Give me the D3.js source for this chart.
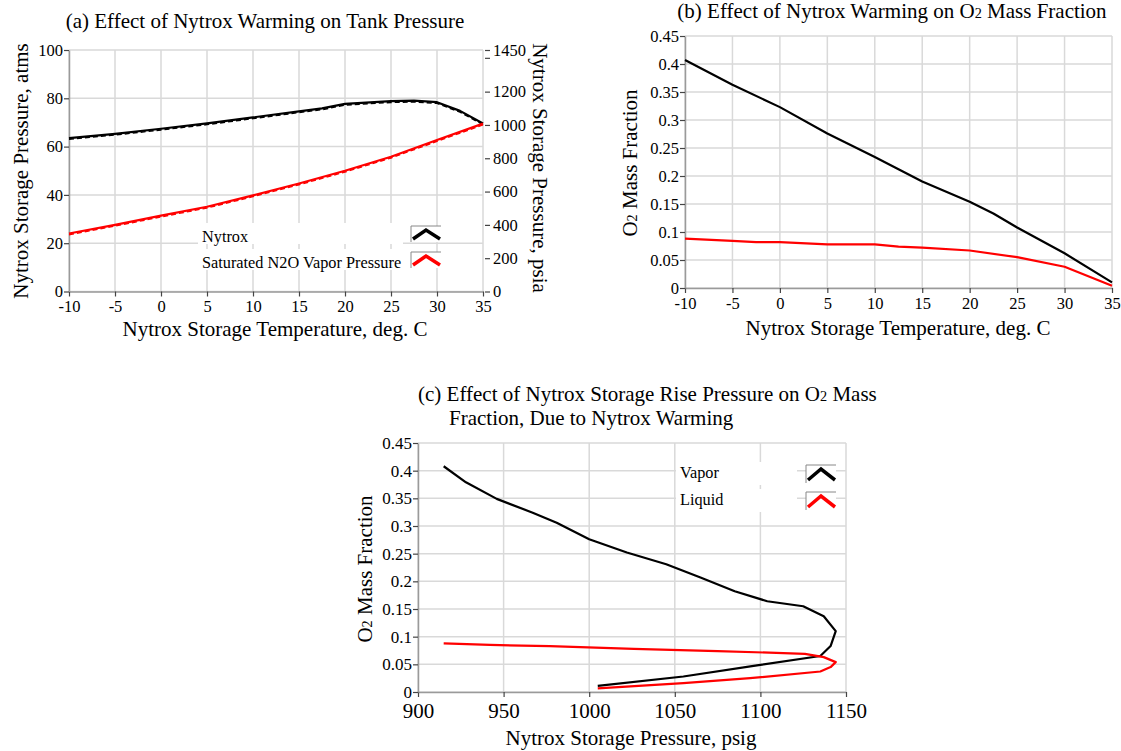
<!DOCTYPE html>
<html><head><meta charset="utf-8">
<script src="https://cdn.jsdelivr.net/npm/d3@7"></script>
<style>
body{margin:0;background:#fff}
text{font-family:"Liberation Serif","Times New Roman",serif;fill:#000}
</style>
</head><body>
<svg id="chart" width="1121" height="751"></svg>
<script>
// ---------- DATA ----------
// Panel (a)
const tempNytrox = [-10,-5,0,5,10,15,17.5,20,25,27.5,30,32.5,35];
const nytroxAtm  = [63.5,65.3,67.4,69.6,72.1,74.6,75.8,77.7,78.8,79,78.4,74.8,69.6];
const tempSat    = [-10,-5,0,5,10,15,20,25,30,35];
const satN2OAtm  = [24.0,27.6,31.4,35.1,39.8,44.7,50.0,55.8,62.7,69.5];
const xTicksTemp = [-10,-5,0,5,10,15,20,25,30,35];
const yTicksAtm  = [0,20,40,60,80,100];
const yTicksPsia = [0,200,400,600,800,1000,1200,1450];
const yTicksPsiaUnlabeled = [1400];
// Panel (b)
const tempVapB   = [-10,-5,0,5,10,12.5,15,20,22.5,25,30,35];
const o2VapB     = [0.407,0.363,0.323,0.276,0.234,0.212,0.190,0.154,0.133,0.108,0.062,0.010];
const tempLiqB   = [-10,-5,-2.5,0,5,10,12.5,15,20,25,30,35];
const o2LiqB     = [0.088,0.084,0.082,0.082,0.078,0.078,0.074,0.072,0.067,0.055,0.038,0.004];
const yTicksO2   = [0,0.05,0.1,0.15,0.2,0.25,0.3,0.35,0.4,0.45];
// Panel (c)
const psigVap = [915,928,946,967,981,1000,1022,1045,1065,1085,1104,1125,1137,1144,1141,1135,1098,1055,1005];
const o2Vap   = [0.408,0.379,0.349,0.324,0.306,0.276,0.252,0.231,0.207,0.182,0.164,0.155,0.137,0.110,0.083,0.065,0.048,0.028,0.011];
const psigLiq = [915,942,977,1026,1075,1126,1137,1144,1141,1135,1094,1055,1005];
const o2Liq   = [0.088,0.085,0.083,0.078,0.074,0.069,0.063,0.054,0.045,0.037,0.025,0.016,0.0066];
const xTicksPsig = [900,950,1000,1050,1100,1150];

// ---------- HELPERS ----------
const svg = d3.select("#chart");
const GRID = "#d9d9d9", AXIS = "#9a9a9a";
const fmt = d => String(+d.toFixed(2));

function styleAxis(a, size){
  a.attr("font-family",null).attr("font-size",null);
  a.selectAll(".tick line").attr("stroke","#444").attr("stroke-width",1.2);
  a.selectAll("text").attr("font-size",size).attr("fill","#000");
}

function panel(o){
  const g = svg.append("g");
  const x = d3.scaleLinear().domain(o.xDom).range([o.l,o.r]);
  const y = d3.scaleLinear().domain(o.yDom).range([o.b,o.t]);
  g.append("g").selectAll("line").data(o.xTicks).join("line")
    .attr("x1",d=>x(d)).attr("x2",d=>x(d)).attr("y1",o.t).attr("y2",o.b)
    .attr("stroke",GRID).attr("stroke-width",1.5);
  g.append("g").selectAll("line").data(o.yTicks).join("line")
    .attr("x1",o.l).attr("x2",o.r).attr("y1",d=>y(d)).attr("y2",d=>y(d))
    .attr("stroke",GRID).attr("stroke-width",1.5);
  const ax = g.append("g").attr("transform",`translate(0,${o.b})`)
    .call(d3.axisBottom(x).tickValues(o.xTicks).tickFormat(fmt).tickSizeInner(5).tickSizeOuter(0).tickPadding(o.xPad));
  const ay = g.append("g").attr("transform",`translate(${o.l},0)`)
    .call(d3.axisLeft(y).tickValues(o.yTicks).tickFormat(fmt).tickSizeInner(5).tickSizeOuter(0).tickPadding(1));
  ax.select(".domain").attr("stroke",AXIS).attr("stroke-width",1.5);
  ay.select(".domain").attr("stroke",AXIS).attr("stroke-width",1.5);
  styleAxis(ax, o.xFont); styleAxis(ay, o.yFont);
  return {g,x,y};
}

function drawLine(p, xs, ys, color, w, dy){
  const pts = xs.map((v,i)=>[v,ys[i]]);
  const path = p.g.append("path").datum(pts)
    .attr("d", d3.line().x(d=>p.x(d[0])).y(d=>p.y(d[1])))
    .attr("fill","none").attr("stroke",color).attr("stroke-width",w)
    .attr("stroke-linejoin","round");
  if(dy) path.attr("transform",`translate(0,${dy})`).attr("stroke-dasharray","5,3");
  return path;
}

function legendRow(x0, x1, base, label, color, iconX, boxTop, boxH){
  svg.append("rect").attr("x",x0).attr("y",boxTop-3).attr("width",x1-x0).attr("height",boxH+5).attr("fill","#fff");
  svg.append("text").attr("x",x0+4).attr("y",base).attr("font-size",16.3).text(label);
  const iw=30, ix=iconX, iy=boxTop, ih=boxH;
  svg.append("rect").attr("x",ix).attr("y",iy).attr("width",iw).attr("height",ih).attr("fill","#fff");
  svg.append("path").attr("d",`M${ix},${iy+ih} V${iy} H${ix+iw}`).attr("fill","none").attr("stroke","#888").attr("stroke-width",1);
  svg.append("path").attr("d",`M${ix+2},${iy+ih-3} L${ix+15},${iy+4} L${ix+29},${iy+ih-3}`)
    .attr("fill","none").attr("stroke",color).attr("stroke-width",3.5).attr("stroke-linejoin","miter");
}

function o2Text(t, parts, size){
  parts.forEach(([s,sub])=>{
    const ts = t.append("tspan").text(s);
    if(sub) ts.attr("font-size", size*0.68);
  });
}

// ---------- PANEL (a) ----------
const A = {l:69,r:483,t:50,b:291.5};
const pa = panel({...A,xDom:[-10,35],yDom:[0,100],xTicks:xTicksTemp,yTicks:yTicksAtm,xPad:4,xFont:16.5,yFont:16.5});
const yPsia = d3.scaleLinear().domain([0,1450]).range([A.b,A.t]);
const ar = pa.g.append("g").attr("transform",`translate(${A.r+2},0)`)
  .call(d3.axisRight(yPsia).tickValues(yTicksPsia).tickFormat(d3.format("d")).tickSizeInner(5).tickSizeOuter(0).tickPadding(3));
ar.select(".domain").remove();
styleAxis(ar, 16.5);
pa.g.append("g").selectAll("line").data(yTicksPsiaUnlabeled).join("line")
  .attr("x1",A.r+2).attr("x2",A.r+7).attr("y1",d=>yPsia(d)).attr("y2",d=>yPsia(d)).attr("stroke","#444").attr("stroke-width",1.2);

drawLine(pa, tempNytrox, nytroxAtm, "#000", 1.5, 1.2);
drawLine(pa, tempNytrox, nytroxAtm, "#000", 2.2);
drawLine(pa, tempSat, satN2OAtm, "#ff0000", 1.5, 1.2);
drawLine(pa, tempSat, satN2OAtm, "#ff0000", 2.2);

legendRow(198, 403, 242, "Nytrox", "#000", 411, 226, 16);
legendRow(198, 403, 268, "Saturated N2O Vapor Pressure", "#ff0000", 411, 252, 16);

svg.append("text").attr("x",265).attr("y",28).attr("text-anchor","middle").attr("font-size",21)
  .text("(a) Effect of Nytrox Warming on Tank Pressure");
svg.append("text").attr("x",275).attr("y",336).attr("text-anchor","middle").attr("font-size",21)
  .text("Nytrox Storage Temperature, deg. C");
svg.append("text").attr("transform","translate(28,171) rotate(-90)").attr("text-anchor","middle").attr("font-size",21)
  .text("Nytrox Storage Pressure, atms");
svg.append("text").attr("transform","translate(533,168) rotate(90)").attr("text-anchor","middle").attr("font-size",21)
  .text("Nytrox Storage Pressure, psia");

// ---------- PANEL (b) ----------
const pb = panel({l:685,r:1112,t:36,b:288,xDom:[-10,35],yDom:[0,0.45],xTicks:xTicksTemp,yTicks:yTicksO2,xPad:4,xFont:16.5,yFont:16.5});
drawLine(pb, tempVapB, o2VapB, "#000", 2.2);
drawLine(pb, tempLiqB, o2LiqB, "#ff0000", 2.2);

const tb = svg.append("text").attr("x",892).attr("y",18).attr("text-anchor","middle").attr("font-size",21);
o2Text(tb, [["(b) Effect of Nytrox Warming on O"],["2",1],[" Mass Fraction"]], 21);
svg.append("text").attr("x",898).attr("y",335).attr("text-anchor","middle").attr("font-size",21)
  .text("Nytrox Storage Temperature, deg. C");
const yb = svg.append("text").attr("transform","translate(637,163) rotate(-90)").attr("text-anchor","middle").attr("font-size",21);
o2Text(yb, [["O"],["2",1],[" Mass Fraction"]], 21);

// ---------- PANEL (c) ----------
const pc = panel({l:418,r:846,t:443,b:692,xDom:[900,1150],yDom:[0,0.45],xTicks:xTicksPsig,yTicks:yTicksO2,xPad:6,xFont:21,yFont:17});
drawLine(pc, psigVap, o2Vap, "#000", 2.2);
drawLine(pc, psigLiq, o2Liq, "#ff0000", 2.2);

legendRow(676, 797, 478, "Vapor", "#000", 806, 465, 18);
legendRow(676, 797, 505, "Liquid", "#ff0000", 806, 492, 18);

const tc1 = svg.append("text").attr("x",418).attr("y",401).attr("font-size",21);
o2Text(tc1, [["(c) Effect of Nytrox Storage Rise Pressure on O"],["2",1],[" Mass"]], 21);
svg.append("text").attr("x",449).attr("y",425).attr("font-size",21)
  .text("Fraction, Due to Nytrox Warming");
svg.append("text").attr("x",631).attr("y",745).attr("text-anchor","middle").attr("font-size",21)
  .text("Nytrox Storage Pressure, psig");
const yc = svg.append("text").attr("transform","translate(372,569) rotate(-90)").attr("text-anchor","middle").attr("font-size",21);
o2Text(yc, [["O"],["2",1],["  Mass Fraction"]], 21);
</script>
</body></html>
